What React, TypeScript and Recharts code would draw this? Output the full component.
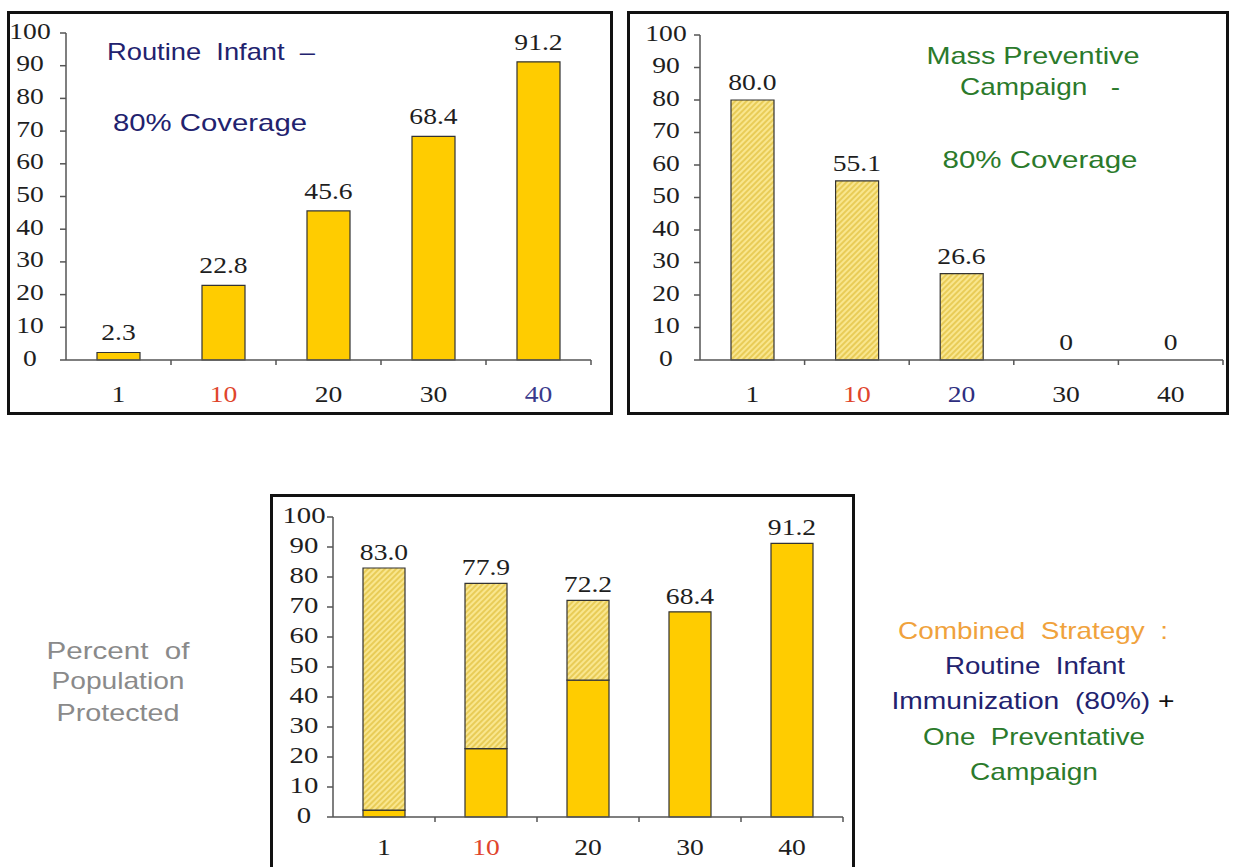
import React from "react";
import { ComposedChart, Bar, Line, XAxis, YAxis, LabelList } from "recharts";

// Coverage by week of campaign (x categories) and % of population protected
const weeks = ["1", "10", "20", "30", "40"];
const routineInfant = [2.3, 22.8, 45.6, 68.4, 91.2];
const massCampaign = [80.0, 55.1, 26.6, 0, 0];
const combinedTotal = [83.0, 77.9, 72.2, 68.4, 91.2];
const percentTicks = [0, 10, 20, 30, 40, 50, 60, 70, 80, 90, 100];

const DARK = "#1e1e1e";
const RED = "#e0452c";
const NAVY = "#22226e";
const GREEN = "#2b7a2b";
const SOLID = "#ffcc00";
const SERIF = "'Liberation Serif', 'Times New Roman', serif";
const SANS = "'Liberation Sans', Arial, sans-serif";

const routineTickColors = [DARK, RED, DARK, DARK, "#3a3a8c"];
const campaignTickColors = [DARK, RED, "#2e2e80", DARK, DARK];
const combinedTickColors = [DARK, RED, DARK, DARK, DARK];

const routineData = weeks.map((w, i) => ({ week: w, routine: routineInfant[i] }));
const campaignData = weeks.map((w, i) => ({ week: w, campaign: massCampaign[i] }));
const combinedData = weeks.map((w, i) => ({
  week: w,
  routine: routineInfant[i],
  topUp: +(combinedTotal[i] - routineInfant[i]).toFixed(1),
  total: combinedTotal[i],
}));

const fmt = (v: number) => (v === 0 ? "0" : v.toFixed(1));

function Hatch({ id }: { id: string }) {
  return (
    <defs>
      <pattern id={id} width="4" height="4" patternUnits="userSpaceOnUse" patternTransform="rotate(45)">
        <rect width="4" height="4" fill="#f9e68e" />
        <line x1="1" y1="0" x2="1" y2="4" stroke="#e2c140" strokeWidth="1.4" />
      </pattern>
    </defs>
  );
}

// x tick: label centred in the band, tick mark on the band's right edge
const makeXTick = (colors: string[], step: number, drop: number, size: number) => (props: any) => {
  const { x, y, payload, index } = props;
  const edge = x + step / 2;
  return (
    <g>
      <line x1={edge} x2={edge} y1={y} y2={y + 5} stroke="#555" strokeWidth={1.5} />
      <text
        transform={`translate(${x},${y + drop}) scale(1.15,1)`}
        textAnchor="middle"
        fontFamily={SERIF}
        fontSize={size}
        fill={colors[index]}
      >
        {payload.value}
      </text>
    </g>
  );
};

const makeYTick = (shift: number, size: number) => (props: any) => {
  const { x, y, payload } = props;
  return (
    <g>
      <line x1={x - 6} x2={x} y1={y} y2={y} stroke="#555" strokeWidth={1.5} />
      <text
        transform={`translate(${x - shift},${y + size * 0.33 - 2}) scale(1.2,1)`}
        textAnchor="middle"
        fontFamily={SERIF}
        fontSize={size}
        fill={DARK}
      >
        {payload.value}
      </text>
    </g>
  );
};

// value printed above the top of each column (points of an invisible line)
const makeValueLabel = (gap: number) => (props: any) => {
  const { x, y, value } = props;
  if (value === undefined || value === null) return null;
  return (
    <text
      transform={`translate(${x},${y - gap}) scale(1.15,1)`}
      textAnchor="middle"
      fontFamily={SERIF}
      fontSize={24}
      fill={DARK}
    >
      {fmt(Number(value))}
    </text>
  );
};

const box = (left: number, top: number, width: number, height: number): React.CSSProperties => ({
  position: "absolute",
  left,
  top,
  width,
  height,
  border: "3px solid #111",
  boxSizing: "border-box",
});

const abs = (left: number, top: number): React.CSSProperties => ({ position: "absolute", left, top });

type Note = { text: React.ReactNode; cx: number; base: number; w: number; color: string };

const notes: Note[] = [
  { text: "Routine  Infant  \u2013", cx: 211, base: 60, w: 208, color: NAVY },
  { text: "80% Coverage", cx: 210, base: 131, w: 194, color: NAVY },
  { text: "Mass Preventive", cx: 1033, base: 64, w: 213, color: GREEN },
  { text: "Campaign   -", cx: 1040, base: 95, w: 160, color: GREEN },
  { text: "80% Coverage", cx: 1040, base: 168, w: 195, color: GREEN },
  { text: "Percent  of", cx: 118, base: 659, w: 143, color: "#8a8a8a" },
  { text: "Population", cx: 118, base: 689, w: 133, color: "#8a8a8a" },
  { text: "Protected", cx: 118, base: 721, w: 123, color: "#8a8a8a" },
  { text: "Combined  Strategy  :", cx: 1033, base: 639, w: 270, color: "#f0a23c" },
  { text: "Routine  Infant", cx: 1035, base: 674, w: 180, color: NAVY },
  {
    text: (
      <>
        Immunization  (80%)<tspan fill="#111"> +</tspan>
      </>
    ),
    cx: 1033,
    base: 709,
    w: 283,
    color: NAVY,
  },
  { text: "One  Preventative", cx: 1034, base: 745, w: 222, color: GREEN },
  { text: "Campaign", cx: 1034, base: 780, w: 128, color: GREEN },
];

const axisStyle = { stroke: "#555", strokeWidth: 1.5 };

export default function App() {
  return (
    <div
      style={{
        position: "absolute",
        left: 0,
        top: 0,
        width: 1233,
        height: 867,
        overflow: "hidden",
        background: "#fff",
      }}
    >
      <div style={box(7, 11, 606, 404)} />
      <div style={box(627, 11, 602, 404)} />
      <div style={box(270, 494, 585, 390)} />

      {/* Routine infant immunisation */}
      <div style={abs(0, 0)}>
        <ComposedChart width={612} height={413} data={routineData} margin={{ top: 33, right: 21, bottom: 13, left: 0 }}>
          <XAxis
            dataKey="week"
            height={40}
            tickSize={0}
            tickMargin={0}
            axisLine={axisStyle}
            tickLine={false}
            tick={makeXTick(routineTickColors, 105, 42, 24)}
          />
          <YAxis
            width={66}
            domain={[0, 100]}
            ticks={percentTicks}
            interval={0}
            tickSize={0}
            tickMargin={0}
            axisLine={axisStyle}
            tickLine={false}
            tick={makeYTick(36, 23)}
          />
          <Bar dataKey="routine" fill={SOLID} stroke="#333" strokeWidth={1.2} barSize={43} isAnimationActive={false} />
          <Line dataKey="routine" stroke="none" dot={false} activeDot={false} legendType="none" isAnimationActive={false}>
            <LabelList dataKey="routine" content={makeValueLabel(12)} />
          </Line>
        </ComposedChart>
      </div>

      {/* Mass preventive campaign */}
      <div style={abs(620, 0)}>
        <ComposedChart width={608} height={413} data={campaignData} margin={{ top: 35, right: 5, bottom: 13, left: 0 }}>
          <Hatch id="hatchCampaign" />
          <XAxis
            dataKey="week"
            height={40}
            tickSize={0}
            tickMargin={0}
            axisLine={axisStyle}
            tickLine={false}
            tick={makeXTick(campaignTickColors, 104.6, 42, 24)}
          />
          <YAxis
            width={80}
            domain={[0, 100]}
            ticks={percentTicks}
            interval={0}
            tickSize={0}
            tickMargin={0}
            axisLine={axisStyle}
            tickLine={false}
            tick={makeYTick(34, 23)}
          />
          <Bar
            dataKey="campaign"
            fill="url(#hatchCampaign)"
            stroke="#333"
            strokeWidth={1.2}
            barSize={43}
            isAnimationActive={false}
          />
          <Line dataKey="campaign" stroke="none" dot={false} activeDot={false} legendType="none" isAnimationActive={false}>
            <LabelList dataKey="campaign" content={makeValueLabel(10)} />
          </Line>
        </ComposedChart>
      </div>

      {/* Combined strategy */}
      <div style={abs(270, 490)}>
        <ComposedChart width={585} height={377} data={combinedData} margin={{ top: 27, right: 12, bottom: 10, left: 0 }}>
          <Hatch id="hatchCombined" />
          <XAxis
            dataKey="week"
            height={40}
            tickSize={0}
            tickMargin={0}
            axisLine={axisStyle}
            tickLine={false}
            tick={makeXTick(combinedTickColors, 102, 38, 24)}
          />
          <YAxis
            width={63}
            domain={[0, 100]}
            ticks={percentTicks}
            interval={0}
            tickSize={0}
            tickMargin={0}
            axisLine={axisStyle}
            tickLine={false}
            tick={makeYTick(29, 24)}
          />
          <Bar dataKey="routine" stackId="s" fill={SOLID} stroke="#333" strokeWidth={1.2} barSize={42} isAnimationActive={false} />
          <Bar
            dataKey="topUp"
            stackId="s"
            fill="url(#hatchCombined)"
            stroke="#333"
            strokeWidth={1.2}
            barSize={42}
            isAnimationActive={false}
          />
          <Line dataKey="total" stroke="none" dot={false} activeDot={false} legendType="none" isAnimationActive={false}>
            <LabelList dataKey="total" content={makeValueLabel(8)} />
          </Line>
        </ComposedChart>
      </div>

      <svg width={1233} height={867} style={{ position: "absolute", left: 0, top: 0, pointerEvents: "none" }}>
        {notes.map((n, i) => (
          <text
            key={i}
            x={n.cx}
            y={n.base}
            textAnchor="middle"
            textLength={n.w}
            lengthAdjust="spacingAndGlyphs"
            fontFamily={SANS}
            fontSize={24}
            fill={n.color}
            style={{ whiteSpace: "pre" }}
          >
            {n.text}
          </text>
        ))}
      </svg>
    </div>
  );
}
